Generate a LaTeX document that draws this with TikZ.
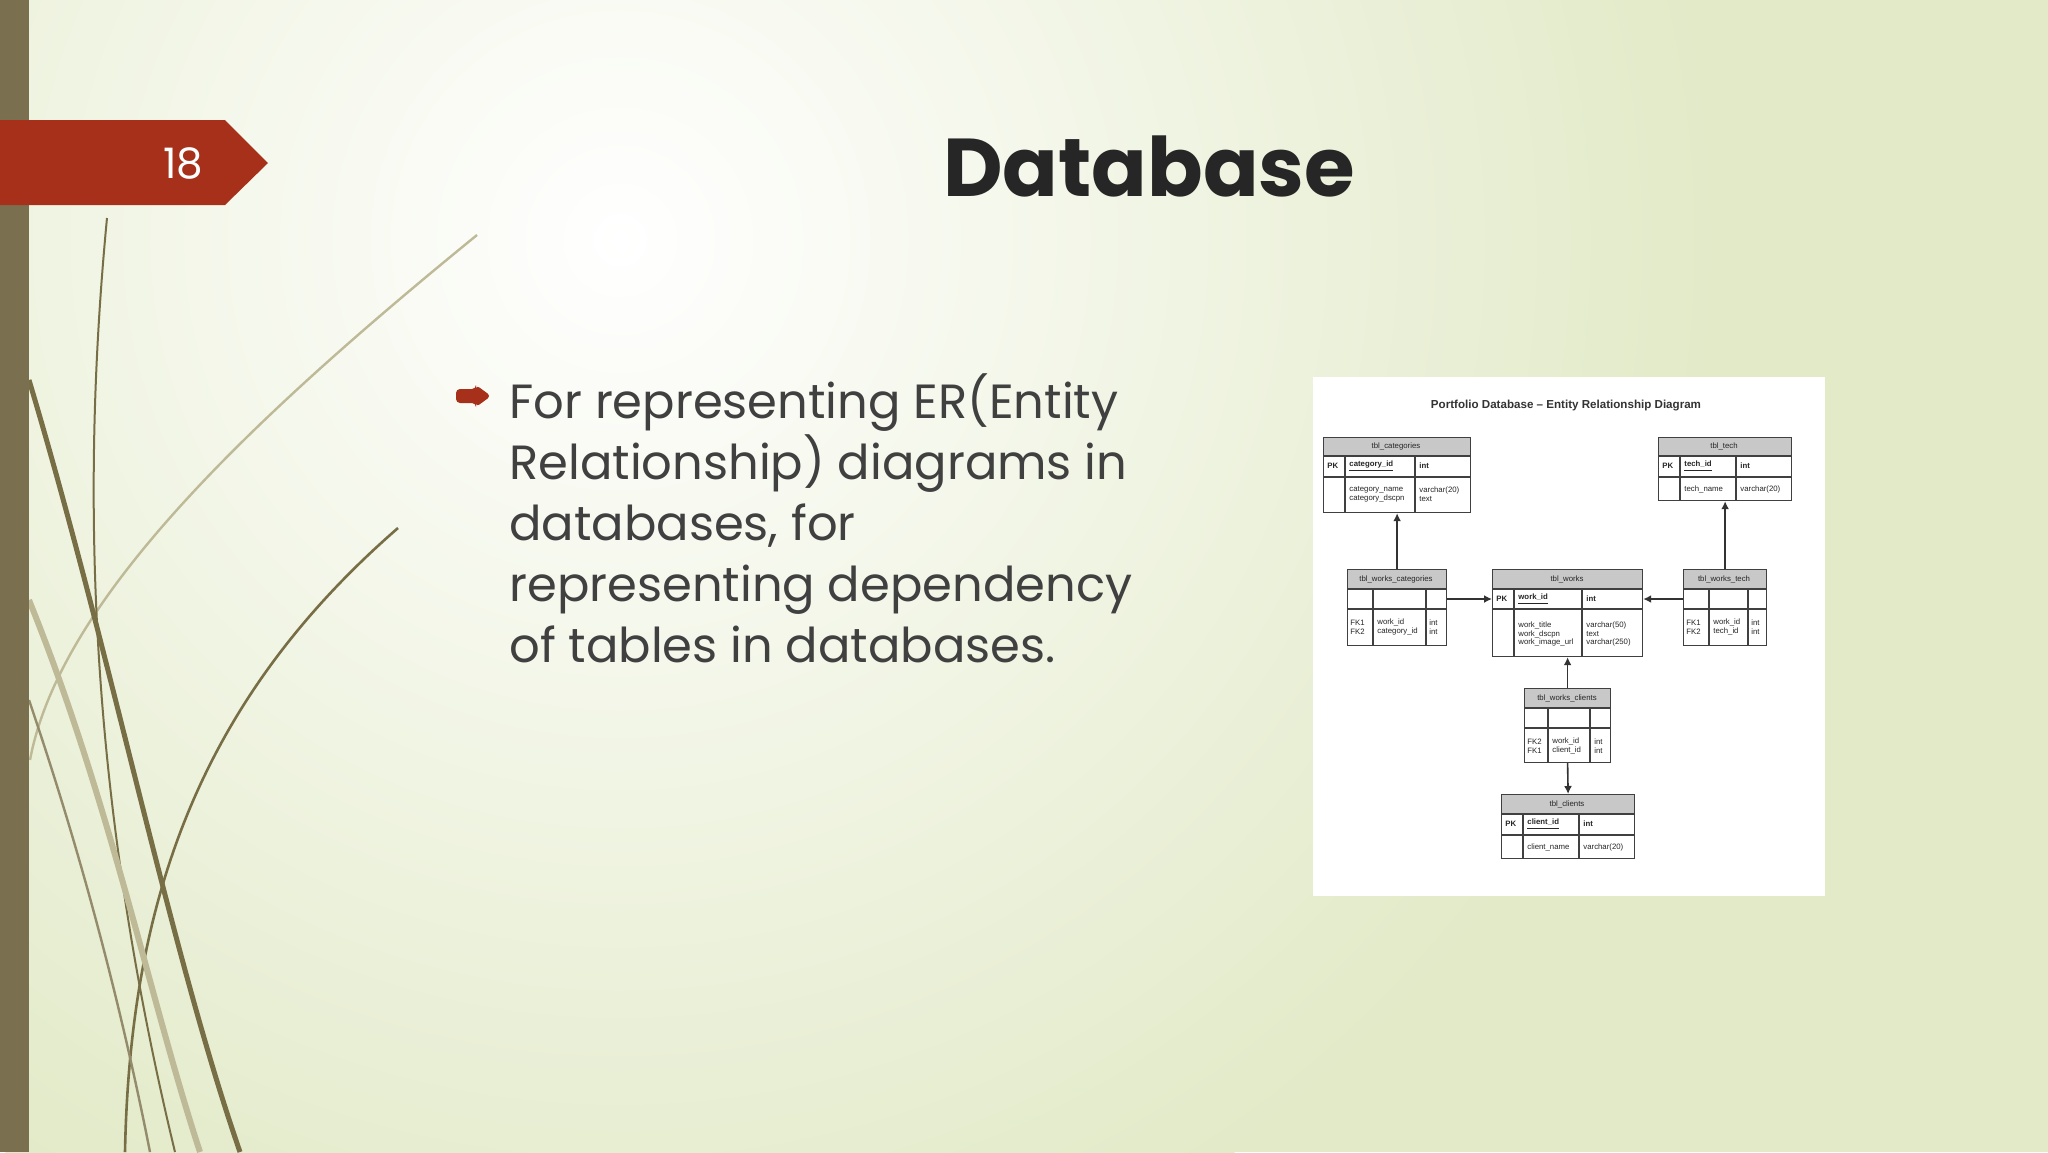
\documentclass[tikz,border=0pt]{standalone}
\usepackage{fontspec}
\setmainfont{Poppins}
\newfontfamily\erfont{Liberation Sans}
\usetikzlibrary{arrows.meta}
\definecolor{bgg}{RGB}{226,234,200}
\definecolor{tabred}{RGB}{166,48,26}
\definecolor{barol}{RGB}{122,112,80}
\definecolor{blade}{RGB}{120,110,70}
\definecolor{bladel}{RGB}{190,185,150}
\definecolor{hdr}{RGB}{200,200,200}
\tikzset{
  erline/.style={draw=black!75, line width=0.6pt},
  ertxt/.style={font=\erfont\fontsize{3.9}{4.4}\selectfont, inner sep=0pt, text=black!85, align=left},
  erarrow/.style={draw=black!80, line width=0.8pt, -{Latex[length=4pt,width=4pt]}},
  body/.style={font=\fontsize{24}{30.5}\selectfont, text=black!75, anchor=north west, align=left, inner sep=0pt},
}
% \ertable{name}{x1}{y1}{x2}{y2}{header bottom}{row bottom}{col1}{col2}
\newcommand{\ertable}[9]{%
  \fill[hdr] (#2,#3) rectangle (#4,#6);
  \node[erline, anchor=north west, minimum width={(#4-#2)*0.5pt}, minimum height={(#5-#3)*0.5pt}, inner sep=0pt] (#1) at (#2,#3) {};
  \draw[erline] (#2,#6) -- (#4,#6) (#2,#7) -- (#4,#7) (#8,#6) -- (#8,#5) (#9,#6) -- (#9,#5);
}
\begin{document}
\begin{tikzpicture}[x=0.5pt,y=-0.5pt]
\useasboundingbox (0,0) rectangle (2048,1152);
\fill[bgg] (0,0) rectangle (2048,1152);
\begin{scope}
\clip (0,0) rectangle (2048,1152);
\shade[inner color=white, outer color=bgg] (620,240) circle (1100);
% grass blades
\draw[bladel, line width=1.2pt] (477,235) .. controls (250,420) and (60,600) .. (30,760);
\draw[blade, line width=1pt] (107,218) .. controls (80,500) and (90,800) .. (175,1152);
\draw[blade, line width=1.3pt] (398,528) .. controls (200,700) and (130,900) .. (125,1152);
\draw[blade, line width=2.5pt] (29,380) .. controls (110,650) and (170,950) .. (240,1152);
\draw[bladel, line width=3pt] (29,600) .. controls (110,800) and (150,1000) .. (200,1152);
\draw[blade!80, line width=1.2pt] (29,700) .. controls (80,850) and (120,1000) .. (150,1152);
\end{scope}
\fill[barol] (0,0) rectangle (29,1152);
% number tab
\fill[tabred] (0,120) -- (225,120) -- (268,163) -- (225,205) -- (0,205) -- cycle;
\node[text=white, font=\fontsize{21}{24}\selectfont] (num) at (183,163) {18};
\node[font=\bfseries\fontsize{41}{46}\selectfont, text=black!85] (title) at (1149,166) {Database};
% bullet
\fill[tabred, rounded corners=2pt] (456,389) -- (476,389) -- (476,385) -- (491,396) -- (476,407) -- (476,403) -- (456,403) -- cycle;
\node[body] (text) at (509,373) {For representing ER(Entity\\Relationship) diagrams in\\databases, for\\representing dependency\\of tables in databases.};
% ER picture
\fill[white] (1313,377) rectangle (1825,896);
\node[font=\erfont\bfseries\fontsize{5.8}{6}\selectfont, text=black!80] (ertitle) at (1566,406) {Portfolio Database – Entity Relationship Diagram};
\ertable{cat}{1323}{437}{1470}{512}{456}{477}{1345}{1415}
\ertable{tech}{1658}{437}{1791}{500}{456}{477}{1680}{1736}
\ertable{wcat}{1347}{569}{1446}{645}{589}{609}{1373}{1426}
\ertable{works}{1492}{569}{1642}{656}{589}{609}{1514}{1582}
\ertable{wtech}{1683}{569}{1766}{645}{589}{609}{1709}{1748}
\ertable{wcli}{1524}{688}{1610}{762}{708}{728}{1548}{1590}
\ertable{cli}{1501}{794}{1634}{858}{814}{835}{1523}{1579}
% table texts
\node[ertxt] at (1396,446) {tbl\_categories};
\node[ertxt, anchor=west] at (1327,466) {\textbf{PK}};
\node[ertxt, anchor=west] at (1349,466) {\textbf{\underline{category\_id}}};
\node[ertxt, anchor=west] at (1419,466) {\textbf{int}};
\node[ertxt, anchor=west] at (1349,494) {category\_name\\category\_dscpn};
\node[ertxt, anchor=west] at (1419,494) {varchar(20)\\text};
\node[ertxt] at (1724,446) {tbl\_tech};
\node[ertxt, anchor=west] at (1662,466) {\textbf{PK}};
\node[ertxt, anchor=west] at (1684,466) {\textbf{\underline{tech\_id}}};
\node[ertxt, anchor=west] at (1740,466) {\textbf{int}};
\node[ertxt, anchor=west] at (1684,489) {tech\_name};
\node[ertxt, anchor=west] at (1740,489) {varchar(20)};
\node[ertxt] at (1396,579) {tbl\_works\_categories};
\node[ertxt, anchor=west] at (1350,627) {FK1\\FK2};
\node[ertxt, anchor=west] at (1377,627) {work\_id\\category\_id};
\node[ertxt, anchor=west] at (1429,627) {int\\int};
\node[ertxt] at (1567,579) {tbl\_works};
\node[ertxt, anchor=west] at (1496,599) {\textbf{PK}};
\node[ertxt, anchor=west] at (1518,599) {\textbf{\underline{work\_id}}};
\node[ertxt, anchor=west] at (1586,599) {\textbf{int}};
\node[ertxt, anchor=west] at (1518,634) {work\_title\\work\_dscpn\\work\_image\_url};
\node[ertxt, anchor=west] at (1586,634) {varchar(50)\\text\\varchar(250)};
\node[ertxt] at (1724,579) {tbl\_works\_tech};
\node[ertxt, anchor=west] at (1686,627) {FK1\\FK2};
\node[ertxt, anchor=west] at (1713,627) {work\_id\\tech\_id};
\node[ertxt, anchor=west] at (1751,627) {int\\int};
\node[ertxt] at (1567,698) {tbl\_works\_clients};
\node[ertxt, anchor=west] at (1527,746) {FK2\\FK1};
\node[ertxt, anchor=west] at (1552,746) {work\_id\\client\_id};
\node[ertxt, anchor=west] at (1594,746) {int\\int};
\node[ertxt] at (1567,804) {tbl\_clients};
\node[ertxt, anchor=west] at (1505,824) {\textbf{PK}};
\node[ertxt, anchor=west] at (1527,824) {\textbf{\underline{client\_id}}};
\node[ertxt, anchor=west] at (1583,824) {\textbf{int}};
\node[ertxt, anchor=west] at (1527,847) {client\_name};
\node[ertxt, anchor=west] at (1583,847) {varchar(20)};
% relations
\draw[erarrow] (wcat.north) -- (wcat.north |- cat.south);
\draw[erarrow] (wtech.north) -- (wtech.north |- tech.south);
\draw[erarrow] (wcat.east |- 0,599) -- (works.west |- 0,599);
\draw[erarrow] (wtech.west |- 0,599) -- (works.east |- 0,599);
\draw[erarrow] (wcli.north) -- (works.south);
\draw[erarrow] (wcli.south) -- (cli.north);
\end{tikzpicture}
\end{document}
